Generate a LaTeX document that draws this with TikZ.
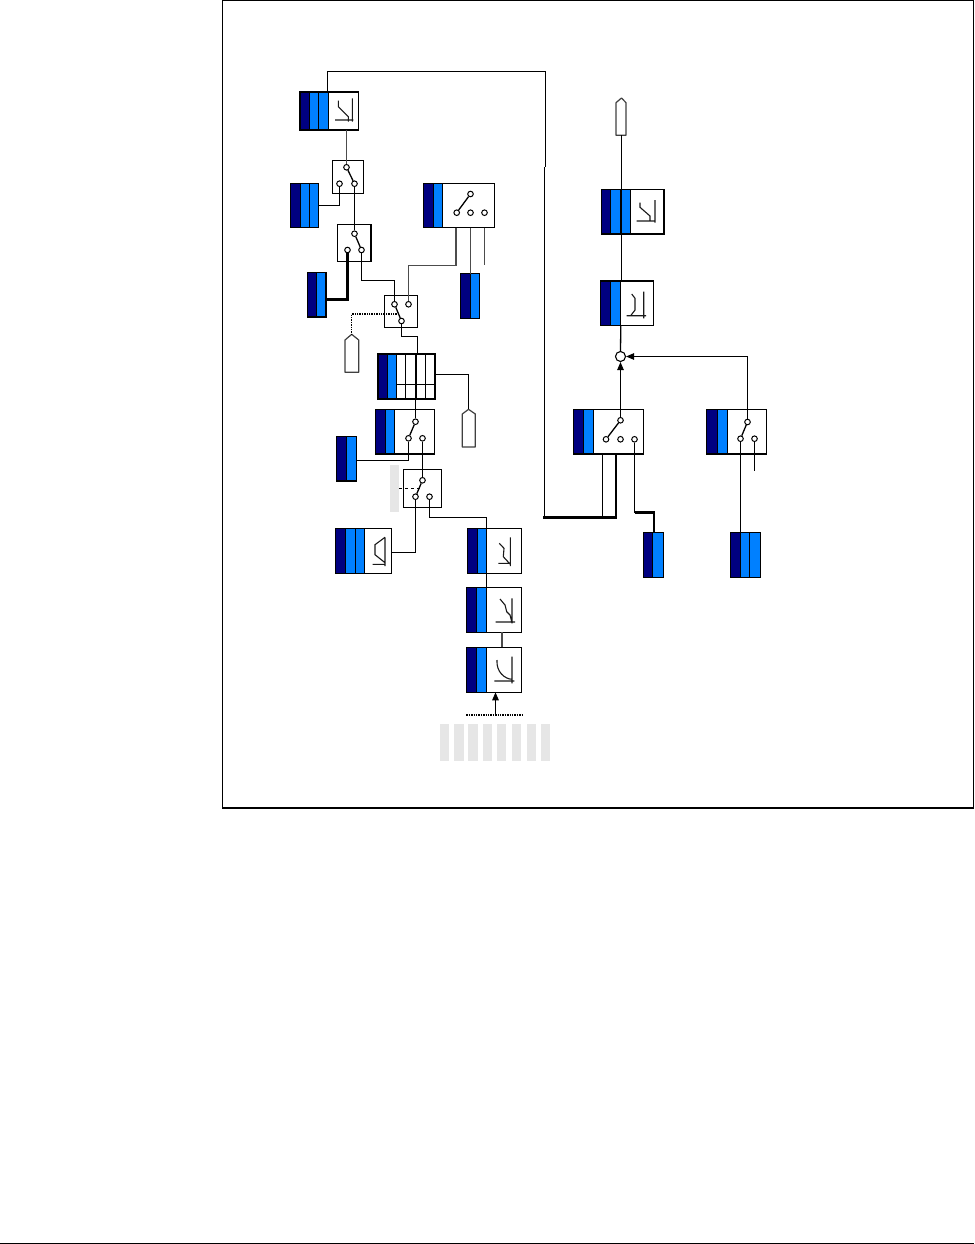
\documentclass[tikz,border=0pt]{standalone}
\usepackage{tikz}
\usetikzlibrary{arrows.meta,calc,fit}
\definecolor{stripnavy}{HTML}{000080}
\definecolor{stripblue}{HTML}{0080FF}
\definecolor{markgrey}{HTML}{E6E6E6}
\tikzset{panel/.style={draw=black,fill=white,line width=1.2pt,inner sep=0pt,outer sep=0pt},
         lightpanel/.style={draw=black,fill=white,line width=1pt,inner sep=0pt,outer sep=0pt},
         wire/.style={line width=1.3pt,black},
         softwire/.style={line width=1.7pt,black!70},
         heavywire/.style={line width=2.4pt,black},
         feed/.style={-{Triangle[length=8pt,width=6.5pt]},line width=1pt,black},
         dotline/.style={line width=1.4pt,black,densely dotted},
         sym/.style={line width=1.1pt,black!90},
         term/.style={circle,draw=black,fill=white,line width=1pt,minimum size=5.6pt,inner sep=0pt},
         tagbox/.style={draw=black!75,fill=white,line width=1.2pt,line join=round},
         sep/.style={line width=.8pt,black}}
\newcommand{\blockat}[5]{\node[panel,fit={(#2,#3)(#4,#5)}] (#1) {};}
\begin{document}
\begin{tikzpicture}[x=1pt,y=-1pt]
  \useasboundingbox (0,0) rectangle (974,1244);
  \draw[line width=1.3pt] (222.7,.6) rectangle (973.4,808);
  \draw[line width=.9pt] (0,1243.5)--(974,1243.5);
  % grey marks
  \fill[markgrey] (390,465) rectangle (399,511.7);
  \foreach \xa/\xb in {440/449,454/464,468/477.7,483/492,496.7/506,512/521.3,527/536,541/550}
    \fill[markgrey] (\xa,724) rectangle (\xb,761);
  % blocks
  \blockat{filtera}{300}{92}{358.5}{130}
  \blockat{chana}{290.7}{183.3}{318.3}{227.7}
  \blockat{chanb}{307.3}{272.3}{326}{317}
  \blockat{selecta}{423.7}{183.3}{494.3}{227.7}
  \blockat{chanc}{460.3}{273.7}{479.3}{318.3}
  \blockat{table}{377.7}{353.7}{435.3}{399.3}
  \blockat{selectb}{375.7}{409.3}{434.3}{454}
  \blockat{chand}{336.7}{436.3}{356.3}{481}
  \blockat{limiter}{335.7}{528.7}{391.3}{573.3}
  \blockat{filterb}{467.3}{528.7}{521.3}{573.3}
  \blockat{filterc}{466.3}{587.7}{521.3}{632.3}
  \blockat{filterd}{466.3}{647.3}{521.3}{692.3}
  \blockat{selectc}{573.7}{409.7}{643.3}{454}
  \blockat{selectd}{706.7}{409.7}{766.3}{454}
  \blockat{chane}{643.3}{532.7}{663.7}{577.7}
  \blockat{chanf}{730.3}{532.7}{760.3}{577.7}
  \blockat{filtere}{601.3}{189.3}{664}{234}
  \blockat{filterf}{600.7}{281}{653.3}{325.3}
  % switches
  \node[lightpanel,fit={(332,160)(363.5,193.5)}] (switcha) {};
  \node[panel,fit={(337.3,224.3)(371,261.7)}] (switchb) {};
  \node[lightpanel,fit={(384.3,295.3)(417.3,327.7)}] (switchc) {};
  \node[lightpanel,fit={(403.3,469.3)(441.3,507.3)}] (switchd) {};
  % strips
  \foreach \xa/\ya/\xb/\yb in {300/92/309.5/130,290.7/183.3/300.5/227.7,307.3/272.3/316.7/317,
      423.7/183.3/433/227.7,460.3/273.7/470/318.3,377.7/353.7/387/399.3,375.7/409.3/385.5/454,
      336.7/436.3/346.7/481,335.7/528.7/345.7/573.3,467.3/528.7/477/573.3,466.3/587.7/476.5/632.3,
      466.3/647.3/476.5/692.3,573.7/409.7/583/454,706.7/409.7/717/454,643.3/532.7/652.7/577.7,
      730.3/532.7/740/577.7,601.3/189.3/610.7/234,600.7/281/610.5/325.3}
    \filldraw[fill=stripnavy,draw=black,line width=.7pt] (\xa,\ya) rectangle (\xb,\yb);
  \foreach \xa/\ya/\xb/\yb in {309.5/92/318.5/130,318.5/92/328/130,300.5/183.3/309.5/227.7,309.5/183.3/318.3/227.7,
      316.7/272.3/326/317,433/183.3/442.5/227.7,470/273.7/479.3/318.3,387/353.7/396.7/399.3,
      385.5/409.3/394.3/454,346.7/436.3/356.3/481,345.7/528.7/355/573.3,355/528.7/364.3/573.3,
      477/528.7/486.7/573.3,476.5/587.7/486.7/632.3,476.5/647.3/486.7/692.3,583/409.7/593.3/454,
      717/409.7/727.3/454,652.7/532.7/663.7/577.7,740/532.7/749.6/577.7,749.6/532.7/760.3/577.7,
      610.7/189.3/620.7/234,620.7/189.3/630.7/234,610.5/281/620/325.3}
    \filldraw[fill=stripblue,draw=black,line width=.7pt] (\xa,\ya) rectangle (\xb,\yb);
  % outlines again over the strips
  \foreach \b in {filtera,chana,chanb,selecta,chanc,selectb,chand,limiter,filterb,filterc,
      filterd,selectc,selectd,chane,chanf,filtere,filterf}
    \draw[line width=1.2pt] (\b.north west) rectangle (\b.south east);
  \draw[line width=1.8pt] (table.north west) rectangle (table.south east);
  \draw[line width=1.6pt] (filtera.north west) rectangle (filtera.south east);
  % table cells
  \draw[sep] (405.7,353.7)--(405.7,399.3) (425.7,353.7)--(425.7,399.3) (396.7,384.3)--(435.3,384.3);
  \draw[line width=2pt] (415.7,353.7)--(415.7,399.3);
  % curve marks
  \draw[sym] (338.3,100.7)--(338.3,106.7)--(348.3,116.7)--(348.3,121.7)
    (352.3,98.3)--(352.3,121.7) (335,120)--(353.3,120);
  \draw[sym] (385,537.3)--(375,544.7)--(375,554.7)--(385,562.7)
    (385,537.3)--(385,566) (372.7,564.3)--(385.7,564.3);
  \draw[sym] (499.3,543.3)--(504,548.3)--(503.3,556.7)--(510,564)
    (510.3,537.3)--(510.3,566) (498.3,563.3)--(510.3,563.3);
  \draw[sym] (500,599)--(505,605)--(506.7,611.7)--(510,615)--(511.7,621.7)
    (512,598.3)--(512,623.3) (495.7,622)--(515,622);
  \draw[sym] (497,660) .. controls (496,672) and (505,679) .. (512,679.3)
    (512,656.7)--(512,683.3) (494.3,681)--(514.3,681);
  \draw[sym] (640,202.7)--(640,207.3)--(650,216)--(650,221.7)
    (655,200)--(655,222.7) (636.7,221)--(655,221);
  \draw[sym] (631.7,294)--(635,298.3)--(635,310)--(630.7,315.7)
    (643.7,291.7)--(643.7,318.3) (626.7,315.7)--(646,315.7);
  % end tags
  \coordinate (taga) at (351.7,334.3);
  \coordinate (tagb) at (468.5,409.3);
  \coordinate (tagc) at (621.5,98);
  \draw[tagbox] (345,372.3)--(345,340)--(taga)--(358.7,340)--(358.7,372.3)--cycle;
  \draw[tagbox] (462.3,447)--(462.3,414)--(tagb)--(475.3,414)--(475.3,447)--cycle;
  \draw[tagbox] (616,135.3)--(616,102.7)--(tagc)--(626,102.7)--(626,135.3)--cycle;
  % terminals
  \node[term] (saa) at (346.5,167.3) {};
  \node[term] (sab) at (339.5,183.7) {};
  \node[term] (sac) at (354.5,183.7) {};
  \node[term] (sba) at (354.5,233.7) {};
  \node[term] (sbb) at (347.5,250) {};
  \node[term] (sbc) at (361.5,250) {};
  \node[term] (sca) at (394.5,304.3) {};
  \node[term] (scb) at (408.5,304.3) {};
  \node[term] (scc) at (401.5,321) {};
  \node[term] (sda) at (470.5,194) {};
  \node[term] (sdb) at (456.7,212.7) {};
  \node[term] (sdc) at (470.5,212.7) {};
  \node[term] (sdd) at (484.5,212.7) {};
  \node[term] (sea) at (415.5,421.7) {};
  \node[term] (seb) at (408.5,438.3) {};
  \node[term] (sec) at (422.5,438.3) {};
  \node[term] (sfa) at (422.5,480.3) {};
  \node[term] (sfb) at (415.5,496.7) {};
  \node[term] (sfc) at (429.5,496.7) {};
  \node[term] (sga) at (620.5,420.3) {};
  \node[term] (sgb) at (606,439.3) {};
  \node[term] (sgc) at (620.5,439.3) {};
  \node[term] (sgd) at (634.5,439.3) {};
  \node[term] (sha) at (747.5,422) {};
  \node[term] (shb) at (740.5,438.7) {};
  \node[term] (shc) at (754.5,438.7) {};
  \node[circle,draw=black,fill=white,line width=1.1pt,minimum size=10pt,inner sep=0pt] (junction) at (620.5,356.5) {};
  % levers
  \draw[wire] (saa)--(sac) (sba)--(sbc) (sca)--(scc) (sda)--(sdb) (sea)--(seb) (sfa)--(sfb)
    (sga)--(sgb) (sha)--(shb);
  % free ends
  \coordinate (selfree) at (484.5,265);
  \coordinate (feedb) at (754.5,470.7);
  \coordinate (tapa) at (396.7,314);
  \coordinate (tapb) at (399,488.5);
  \coordinate (tapc) at (419.5,488.5);
  \coordinate (busl) at (466.3,715);
  \coordinate (busm) at (495.5,715);
  \coordinate (busr) at (523.3,715);
  \coordinate (loopa) at (327.5,71.5);
  \coordinate (loopb) at (545.5,167.3);
  \coordinate (loopc) at (544.5,167.3);
  \coordinate (loopd) at (544.5,517.5);
  \coordinate (loope) at (543.3,517.5);
  % connectors
  \draw[softwire] (filtera.south -| saa)--(saa.north);
  \draw[wire] (loopa |- filtera.north)--(loopa)-|(loopb);
  \draw[wire] (loopc)--(loopd);
  \draw[heavywire] (loope)-|($(selectc.south west)+(42.3,0)$);
  \draw[wire] (loopd -| 602.5,0)--(602.5,454);
  \draw[wire] (chana.east |- 0,205.5)-|(sab.south);
  \draw[wire] (sac.south)--(sba.north);
  \draw[heavywire] (chanb.east |- 0,299.5)-|(sbb.south);
  \draw[wire] (sbc.south)|-(394.5,280.5)--(sca.north);
  \draw[softwire] (455.7,227.7)|-(408.5,265.5)--(scb.north);
  \draw[softwire] (sdc |- selecta.south)--(sdc |- chanc.north);
  \draw[softwire] (selfree |- selecta.south)--(selfree);
  \draw[dotline] (tapa)-|(taga);
  \draw[wire] (scc.south)|-(417.5,336.5)--(417.5,353.7);
  \draw[wire] (table.east |- 0,374.5)-|(tagb);
  \draw[wire] (415.5,399.3)--(sea.north);
  \draw[wire] (chand.east |- 0,460.5)-|(seb.south);
  \draw[wire] (sec.south)--(sfa.north);
  \draw[wire,dashed,line width=.6pt] (tapb)--(tapc);
  \draw[wire] (limiter.east |- 0,552.5)-|(sfb.south);
  \draw[wire] (sfc.south)|-(486.7,517.5)--(486.7,587.7);
  \draw[softwire] (501.7,632.3)--(501.7,647.3);
  \draw[feed] (busm)--(busm |- filterd.south);
  \draw[dotline] (busl)--(busr);
  \draw[wire] (tagc |- 0,135.3)--(621.5,281);
  \draw[wire] (620.8,325.3)--(junction.north);
  \draw[feed] (sga.north)--(junction.south);
  \draw[feed] (sha.north)|-(junction.east);
  \draw[wire] (sgd.south)|-(636,512.5);
  \draw[heavywire] (634.5,512.5)-|(chane.north -| 654,0);
  \draw[wire] (shb.south)--(shb |- chanf.north);
  \draw[wire] (shc.south)--(feedb);
\end{tikzpicture}
\end{document}
